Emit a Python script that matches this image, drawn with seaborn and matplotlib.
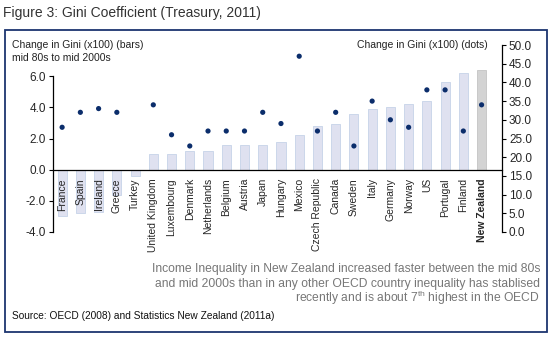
import numpy as np
import pandas as pd
import matplotlib
matplotlib.use("Agg")
import matplotlib.pyplot as plt
from matplotlib.patches import Rectangle
import seaborn as sns

countries = ["France", "Spain", "Ireland", "Greece", "Turkey", "United Kingdom",
             "Luxembourg", "Denmark", "Netherlands", "Belgium", "Austria", "Japan",
             "Hungary", "Mexico", "Czech Republic", "Canada", "Sweden", "Italy",
             "Germany", "Norway", "US", "Portugal", "Finland", "New Zealand"]
gini_change = [-3.0, -2.8, -2.7, -1.6, -0.4, 1.0, 1.0, 1.2, 1.2, 1.6, 1.6, 1.6,
               1.8, 2.2, 2.8, 2.9, 3.6, 3.9, 4.0, 4.2, 4.4, 5.6, 6.2, 6.4]
gini_level = [28, 32, 33, 32, np.nan, 34, 26, 23, 27, 27, 27, 32,
              29, 47, 27, 32, 23, 35, 30, 28, 38, 38, 27, 34]
left_ticks = [-4.0, -2.0, 0.0, 2.0, 4.0, 6.0]
right_ticks = [0.0, 5.0, 10.0, 15.0, 20.0, 25.0, 30.0, 35.0, 40.0, 45.0, 50.0]

df = pd.DataFrame({"country": countries, "change": gini_change, "level": gini_level})

sns.set_style("white")
plt.rcParams["font.family"] = ["Liberation Sans", "DejaVu Sans"]
plt.rcParams["mathtext.fontset"] = "custom"
plt.rcParams["mathtext.rm"] = "Liberation Sans"

fig = plt.figure(figsize=(5.5, 3.37), dpi=100)
W, H = 550, 337
ax = fig.add_axes([53 / W, 1 - 232 / H, (502 - 53) / W, (232 - 45) / H])
ax.set_axisbelow(False)

bar_fill = "#dfe1f0"
bar_edge = "#c6d3e8"
nz_fill = "#d3d3d3"
palette = {c: (nz_fill if c == "New Zealand" else bar_fill) for c in countries}
sns.barplot(data=df, x="country", y="change", hue="country", palette=palette,
            order=countries, width=0.5, edgecolor=bar_edge, linewidth=0.6,
            saturation=1, legend=False, ax=ax)
ax.patches[-1].set_edgecolor("#c4c4c4")

ax.set_xlim(-0.5, 24.12)
ax.set_ylim(-4, 8)
ax.set_yticks(left_ticks)
ax.set_yticklabels([f"{v:.1f}" for v in left_ticks], fontsize=8.5)
ax.set_xlabel("")
ax.set_ylabel("")

for side in ["top", "right"]:
    ax.spines[side].set_visible(False)
ax.spines["left"].set_bounds(-4, 6)
ax.spines["bottom"].set_position(("data", 0))
for side in ["left", "bottom"]:
    ax.spines[side].set_color("black")
    ax.spines[side].set_linewidth(0.9)

ax.set_xticks(range(len(countries)))
ax.set_xticklabels(countries, rotation=90, fontsize=7.5, va="top", ha="center")
for lbl in ax.get_xticklabels():
    if lbl.get_text() == "New Zealand":
        lbl.set_fontweight("bold")
ax.set_xticks(np.arange(-0.5, len(countries), 1), minor=True)
ax.tick_params(axis="x", which="major", length=0, pad=6)
ax.tick_params(axis="x", which="minor", length=3, width=0.8, direction="out", color="black")
ax.tick_params(axis="y", length=3, width=0.8, direction="out", color="black", pad=2, left=True)

ax2 = ax.twinx()
sns.scatterplot(data=df, x="country", y="level", color="#0b2d6b", s=14,
                edgecolor="none", ax=ax2, zorder=5)
ax2.set_xlim(-0.5, 24.12)
ax2.set_ylim(0, 50)
ax2.set_yticks(right_ticks)
ax2.set_yticklabels([f"{v:.1f}" for v in right_ticks], fontsize=8.5)
ax2.set_ylabel("")
for side in ["top", "left", "bottom"]:
    ax2.spines[side].set_visible(False)
ax2.spines["right"].set_color("black")
ax2.spines["right"].set_linewidth(0.9)
ax2.tick_params(axis="y", length=3, width=0.8, direction="out", color="black", pad=2, right=True)

# Figure frame and text
fig.patches.append(Rectangle((5 / W, 1 - 332 / H), (547 - 5) / W, (332 - 30) / H,
                             transform=fig.transFigure, fill=False,
                             edgecolor="#1c3570", linewidth=1.3))
fig.text(3 / W, 1 - 13 / H, "Figure 3: Gini Coefficient (Treasury, 2011)",
         fontsize=10, color="#333333", va="center", ha="left")
fig.text(12 / W, 1 - 45 / H, "Change in Gini (x100) (bars)",
         fontsize=7.5, color="#222222", va="center", ha="left")
fig.text(12 / W, 1 - 58 / H, "mid 80s to mid 2000s",
         fontsize=7.5, color="#222222", va="center", ha="left")
fig.text(488 / W, 1 - 45 / H, "Change in Gini (x100) (dots)",
         fontsize=7.5, color="#222222", va="center", ha="right")
note_lines = [
    "Income Inequality in New Zealand increased faster between the mid 80s",
    "and mid 2000s than in any other OECD country inequality has stablised",
    "recently and is about 7$^{\\mathrm{th}}$ highest in the OECD",
]
for i, line in enumerate(note_lines):
    fig.text(540 / W, 1 - (272 + 15 * i) / H, line, fontsize=8.7, color="#777777",
             va="baseline", ha="right", transform=fig.transFigure)
fig.text(12 / W, 1 - 316 / H, "Source: OECD (2008) and Statistics New Zealand (2011a)",
         fontsize=7.3, color="#111111", va="center", ha="left")

fig.savefig("out.png", dpi=100)
